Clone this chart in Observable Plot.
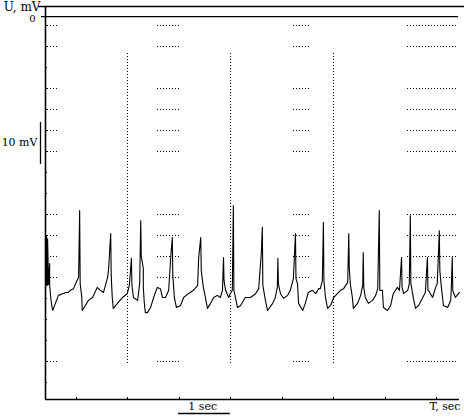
<!DOCTYPE html>
<html>
<head>
<meta charset="utf-8">
<script src="https://cdn.jsdelivr.net/npm/d3@7"></script>
<script src="https://cdn.jsdelivr.net/npm/@observablehq/plot@0.6"></script>
<style>
  html, body { margin: 0; padding: 0; background: #fff; }
  svg { display: block; }
</style>
</head>
<body>
<script>
// ---- Data ----
// Membrane potential trace: time (s) and potential (mV)
const timeSec = [0.02,0.02,0.04,0.04,0.06,0.08,0.08,0.10,0.12,0.14,0.19,0.25,0.33,0.39,0.44,0.48,0.54,0.60,0.64,
  0.66,0.67,0.70,0.71,0.77,0.83,0.91,1.00,1.06,1.12,1.20,1.22,1.26,1.27,1.29,1.31,1.39,1.49,1.58,1.62,
  1.66,1.67,1.70,1.78,1.82,1.84,1.85,1.89,1.89,1.91,1.93,1.97,2.03,2.09,2.16,2.22,2.26,2.32,2.38,2.42,
  2.43,2.45,2.46,2.49,2.53,2.61,2.67,2.76,2.86,2.94,2.96,3.00,3.01,3.05,3.09,3.13,3.19,3.25,3.32,3.38,3.42,
  3.44,3.45,3.48,3.54,3.57,3.61,3.63,3.64,3.67,3.71,3.77,3.86,3.96,4.06,4.12,4.17,4.19,4.20,4.25,4.29,4.39,4.44,4.48,
  4.49,4.50,4.54,4.60,4.68,4.73,4.79,4.83,4.84,4.87,4.89,4.97,5.02,5.08,5.16,5.22,5.28,5.31,5.35,
  5.37,5.38,5.41,5.45,5.51,5.57,5.64,5.70,5.76,5.84,5.86,5.87,5.89,5.93,5.95,6.03,6.09,6.13,
  6.14,6.15,6.18,6.24,6.32,6.38,6.42,6.45,6.46,6.51,6.53,6.61,6.67,6.72,6.80,6.84,
  6.88,6.89,6.92,7.00,7.03,7.05,7.06,7.11,7.15,7.21,7.29,7.34,7.38,7.39,7.40,7.48,7.54,7.57,
  7.61,7.62,7.65,7.69,7.77,7.83,7.84,7.86,7.87,7.92,7.98,8.00];
const potentialMv = [-64.0,-52.1,-64.0,-52.9,-63.8,-58.8,-64.0,-66.7,-68.8,-70.0,-68.3,-66.4,-66.0,-65.7,-65.7,-65.2,-64.8,-63.1,-62.1,
  -46.2,-63.6,-66.7,-70.0,-68.8,-67.6,-66.9,-64.5,-65.2,-65.7,-62.1,-60.0,-51.7,-61.7,-66.9,-69.5,-68.3,-66.9,-66.0,-64.0,
  -57.6,-64.0,-66.9,-67.6,-63.6,-48.6,-57.0,-60.0,-64.5,-68.3,-70.5,-70.5,-69.3,-66.9,-64.5,-64.8,-66.9,-66.9,-65.2,-57.4,
  -55.7,-52.6,-61.7,-66.9,-69.3,-68.8,-66.9,-66.0,-65.2,-64.0,-57.4,-52.6,-60.5,-64.5,-66.9,-69.5,-68.3,-66.9,-66.4,-66.9,-65.2,
  -57.4,-62.9,-65.2,-66.9,-66.0,-65.2,-45.0,-65.2,-66.9,-69.3,-68.8,-66.9,-66.9,-66.0,-64.8,-56.4,-50.2,-64.0,-67.6,-70.0,-68.3,-66.9,-64.5,
  -57.6,-63.6,-66.0,-67.1,-66.4,-65.2,-62.4,-51.7,-62.4,-63.6,-68.3,-70.0,-68.3,-65.7,-65.2,-66.0,-64.8,-64.8,-62.9,
  -49.0,-62.9,-66.9,-69.5,-68.8,-66.9,-66.0,-65.2,-64.8,-63.3,-51.7,-59.8,-63.6,-66.9,-69.5,-68.3,-66.4,-64.0,
  -56.2,-64.5,-66.9,-68.3,-67.6,-66.4,-64.8,-46.2,-65.2,-65.2,-69.3,-70.0,-68.8,-66.0,-64.5,-65.2,
  -57.4,-64.5,-66.0,-65.2,-63.6,-47.4,-63.6,-67.1,-69.5,-68.8,-66.9,-65.7,-57.4,-65.2,-65.2,-66.9,-64.5,-63.6,
  -51.0,-60.5,-64.5,-68.8,-69.3,-67.6,-65.2,-57.4,-65.2,-66.9,-66.0,-65.7];

// Axis domains
const timeDomain = [0, 8.0];
const mvDomain = [-91.2, 2.4];

// Grid: rows every 5 mV, dotted only in some rows and time bands
const gridRowsMv = [-2.1,-7.1,-12.1,-17.1,-22.1,-27.1,-32.1,-37.1,-42.1,-47.1,-52.1,-57.1,-62.1,-67.1,-72.1,-77.1,-82.1,-87.1];
const dottedRowsMv = [-2.1,-7.1,-17.1,-22.1,-27.1,-32.1,-47.1,-52.1,-57.1,-62.1,-82.1];
const dottedBandStart = [0.04, 2.16, 4.79, 7.00];
const dottedBandEnd   = [0.27, 2.61, 5.10, 7.98];
const dottedColsSec = [1.59, 3.58, 5.57];
const dottedColsSpanMv = [-82.6, -8.6];
const timeTicksSec = [0.6, 1.59, 2.59, 3.58, 4.58, 5.57, 6.57, 7.56];

// Scale bars
const mvBar = [-35.2, -25.2];   // 10 mV
const secBar = [2.57, 3.57];    // 1 sec

// Labels
const yLabel = "U, mV";
const zeroLabel = "0";
const mvBarLabel = "10 mV";
const secBarLabel = "1 sec";
const xLabel = "T, sec";

// ---- Build tables ----
const trace = timeSec.map((t, i) => ({t, v: potentialMv[i]}));
const gridSegs = [];
for (const v of dottedRowsMv) for (let b = 0; b < dottedBandStart.length; b++)
  gridSegs.push({v, x1: dottedBandStart[b], x2: dottedBandEnd[b]});

const font = "DejaVu Serif";

const chart = Plot.plot({
  width: 464,
  height: 417,
  marginLeft: 45,
  marginRight: 5,
  marginTop: 6,
  marginBottom: 18,
  style: {fontFamily: font, background: "#fff", color: "#000"},
  x: {domain: timeDomain, axis: null},
  y: {domain: mvDomain, axis: null},
  marks: [
    // dotted grid
    Plot.ruleY(gridSegs, {y: "v", x1: "x1", x2: "x2", stroke: "#000", strokeWidth: 1, strokeDasharray: "1,2", shapeRendering: "crispEdges"}),
    Plot.ruleX(dottedColsSec, {x: d => d, y1: dottedColsSpanMv[0], y2: dottedColsSpanMv[1], stroke: "#000", strokeWidth: 1, strokeDasharray: "1,2", shapeRendering: "crispEdges"}),
    // left inward ticks
    Plot.ruleY(gridRowsMv, {y: d => d, x1: 0, x2: 0.04, stroke: "#000", strokeWidth: 1, shapeRendering: "crispEdges"}),
    // bottom ticks
    Plot.ruleX(timeTicksSec, {x: d => d, y1: mvDomain[0], y2: mvDomain[0] + 0.5, stroke: "#000", strokeWidth: 1, shapeRendering: "crispEdges"}),
    // frame lines
    Plot.ruleX([timeDomain[0]], {y1: mvDomain[0], y2: mvDomain[1], stroke: "#000", strokeWidth: 1.6}),
    Plot.ruleY([mvDomain[0]], {x1: timeDomain[0], x2: timeDomain[1], stroke: "#000", strokeWidth: 1.4}),
    Plot.ruleY([mvDomain[1]], {insetLeft: -7, insetRight: -5, stroke: "#000", strokeWidth: 1.3}),
    Plot.ruleY([0], {insetLeft: -4, insetRight: 1, stroke: "#000", strokeWidth: 1.3}),
    // scale bars
    Plot.ruleX([timeDomain[0]], {y1: mvBar[0], y2: mvBar[1], dx: -5, stroke: "#000", strokeWidth: 1.3}),
    Plot.ruleY([mvDomain[0]], {x1: secBar[0], x2: secBar[1], dy: 14, stroke: "#000", strokeWidth: 1.3}),
    // trace
    Plot.line(trace, {x: "t", y: "v", stroke: "#000", strokeWidth: 1.1, curve: "linear"}),
    // labels
    Plot.text([yLabel], {x: timeDomain[0], y: mvDomain[1], dx: -5, dy: 1, text: d => d, textAnchor: "end", fontSize: 12, fill: "#000"}),
    Plot.text([zeroLabel], {x: timeDomain[0], y: 0, dx: -10, dy: 2, text: d => d, textAnchor: "end", fontSize: 10, fill: "#000"}),
    Plot.text([mvBarLabel], {x: timeDomain[0], y: -30, dx: -8, text: d => d, textAnchor: "end", fontSize: 11, fill: "#000"}),
    Plot.text([secBarLabel], {x: 2.76, y: mvDomain[0], dy: 7, text: d => d, textAnchor: "start", fontSize: 11, fill: "#000"}),
    Plot.text([xLabel], {x: timeDomain[1], y: mvDomain[0], dy: 7, dx: 1, text: d => d, textAnchor: "end", fontSize: 11, fill: "#000"})
  ]
});
document.body.appendChild(chart);
</script>
</body>
</html>
